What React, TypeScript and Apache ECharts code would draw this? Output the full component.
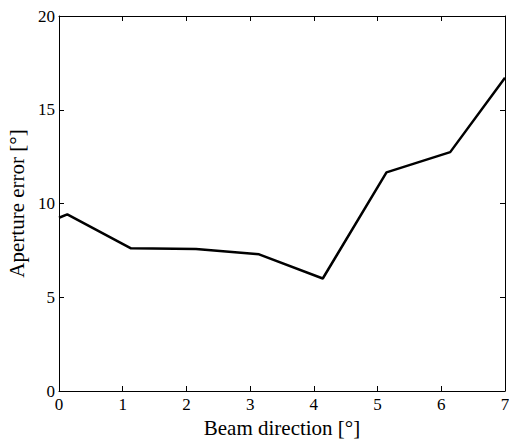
import React, { useEffect, useRef } from "react";
import * as echarts from "echarts";

const beamDirection = [0, 0.13, 1.13, 2.15, 3.14, 4.14, 5.14, 6.14, 7];
const apertureError = [9.24, 9.42, 7.61, 7.57, 7.29, 6.0, 11.66, 12.74, 16.71];
const xTicks = [0, 1, 2, 3, 4, 5, 6, 7];
const yTicks = [0, 5, 10, 15, 20];

const FONT = "'Liberation Serif', 'Times New Roman', 'DejaVu Serif', serif";

export default function App() {
  const ref = useRef<HTMLDivElement>(null);
  useEffect(() => {
    document.body.style.margin = "0";
    const chart = echarts.init(ref.current!, null, { renderer: "svg" });
    const axisLine = { show: true, onZero: false, lineStyle: { color: "#000", width: 1 } };
    const axisTick = { show: true, inside: true, length: 5, lineStyle: { color: "#000", width: 1 } };
    chart.setOption({
      animation: false,
      backgroundColor: "#fff",
      grid: {
        left: 59,
        right: 4,
        top: 16,
        bottom: 48,
        containLabel: false,
        outerBoundsMode: "none",
      },
      xAxis: [
        {
          type: "value",
          min: 0,
          max: 7,
          interval: 1,
          name: "Beam direction [°]",
          nameLocation: "middle",
          nameGap: 22,
          nameTextStyle: { fontFamily: FONT, fontSize: 21, color: "#000" },
          axisLine,
          axisTick,
          axisLabel: {
            fontFamily: FONT,
            fontSize: 17,
            color: "#000",
            margin: 5,
            formatter: (v: number) => (xTicks.includes(v) ? String(v) : ""),
          },
          splitLine: { show: false },
        },
        {
          type: "value",
          position: "top",
          min: 0,
          max: 7,
          interval: 1,
          axisLine,
          axisTick,
          axisLabel: { show: false },
          splitLine: { show: false },
        },
      ],
      yAxis: [
        {
          type: "value",
          min: 0,
          max: 20,
          interval: 5,
          name: "Aperture error [°]",
          nameLocation: "middle",
          nameGap: 27,
          nameTextStyle: { fontFamily: FONT, fontSize: 21, color: "#000" },
          axisLine,
          axisTick,
          axisLabel: {
            fontFamily: FONT,
            fontSize: 17,
            color: "#000",
            margin: 4,
            formatter: (v: number) => (yTicks.includes(v) ? String(v) : ""),
          },
          splitLine: { show: false },
        },
        {
          type: "value",
          position: "right",
          min: 0,
          max: 20,
          interval: 5,
          axisLine,
          axisTick,
          axisLabel: { show: false },
          splitLine: { show: false },
        },
      ],
      series: [
        {
          type: "line",
          data: beamDirection.map((x, i) => [x, apertureError[i]]),
          showSymbol: false,
          symbol: "none",
          lineStyle: { color: "#000", width: 2.5 },
          clip: true,
        },
      ],
    });
    return () => chart.dispose();
  }, []);
  return <div ref={ref} style={{ width: 509, height: 439 }} />;
}
